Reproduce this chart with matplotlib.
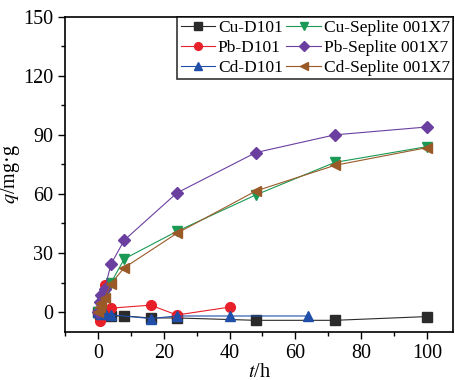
import matplotlib.pyplot as plt
import numpy as np
from matplotlib.ticker import MultipleLocator

plt.rcParams['font.family'] = ['Liberation Serif', 'DejaVu Serif']
plt.rcParams['mathtext.fontset'] = 'stix'

# D101 resin
t_cu_d = [0, 0.5, 1, 2, 4, 8, 16, 24, 48, 72, 100]
q_cu_d = [0, -1, -1.5, -1.5, -2, -2, -3, -3, -4.2, -4.2, -2.3]
t_pb_d = [0, 0.5, 1, 2, 4, 16, 24, 40]
q_pb_d = [0, -4.5, 5, 13.5, 2, 3.5, -1.5, 2.5]
t_cd_d = [0, 1, 2, 4, 16, 24, 40, 64]
q_cd_d = [0, -1, -0.3, -1.4, -3.3, -2, -2, -2]

# Seplite 001X7 resin
t_sep = [0, 0.5, 1, 2, 4, 8, 24, 48, 72, 100]
q_cu_s = [0, 3, 6, 9, 15, 27, 41, 59.5, 76, 84]
q_pb_s = [0, 5, 8.5, 11.5, 24.5, 36.5, 60.5, 81, 90, 94]
q_cd_s = [0, 2.5, 4.5, 7, 14.5, 22.5, 40, 61.5, 74.5, 83.5]

fig = plt.figure(figsize=(4.55, 3.8), dpi=100)
ax = fig.add_axes([0.143, 0.127, 0.853, 0.829])

kw = dict(linewidth=0.8, markersize=7)
ax.plot(t_cu_d, q_cu_d, '-s', color='#2b2b2b', label='Cu-D101', **kw)
ax.plot(t_pb_d, q_pb_d, '-o', color='#e8202a', label='Pb-D101', **kw)
ax.plot(t_cd_d, q_cd_d, '-^', color='#1f4fa8', label='Cd-D101', **kw)
ax.plot(t_sep, q_cu_s, '-v', color='#1a9a55', label='Cu-Seplite 001X7', **kw)
ax.plot(t_sep, q_pb_s, '-D', color='#6a3fa0', label='Pb-Seplite 001X7',
        linewidth=0.8, markersize=6)
ax.plot(t_sep, q_cd_s, '-<', color='#9a5a28', label='Cd-Seplite 001X7', **kw)

ax.set_xlim(-10, 108)
ax.set_ylim(-10, 150)
ax.xaxis.set_major_locator(MultipleLocator(20))
ax.xaxis.set_minor_locator(MultipleLocator(10))
ax.yaxis.set_major_locator(MultipleLocator(30))
ax.yaxis.set_minor_locator(MultipleLocator(15))
ax.tick_params(which='both', direction='out', labelsize=14.5, width=1)
ax.tick_params(which='major', length=5)
ax.tick_params(which='minor', length=3)
for s in ax.spines.values():
    s.set_linewidth(1.2)

ax.set_xlabel('$t$/h', fontsize=14.5, labelpad=0)
ax.set_ylabel('$q$/mg·g', fontsize=14.5, labelpad=1)

leg = ax.legend(ncol=2, loc='upper right', bbox_to_anchor=(1.0, 1.0),
                borderaxespad=0, fontsize=12.5, frameon=True, fancybox=False,
                edgecolor='black', handlelength=2.0, handletextpad=0.15,
                columnspacing=0.2, labelspacing=0.2, borderpad=0.2,
                markerscale=0.8)
leg.get_frame().set_linewidth(1.2)

fig.savefig('out.png', dpi=100)
